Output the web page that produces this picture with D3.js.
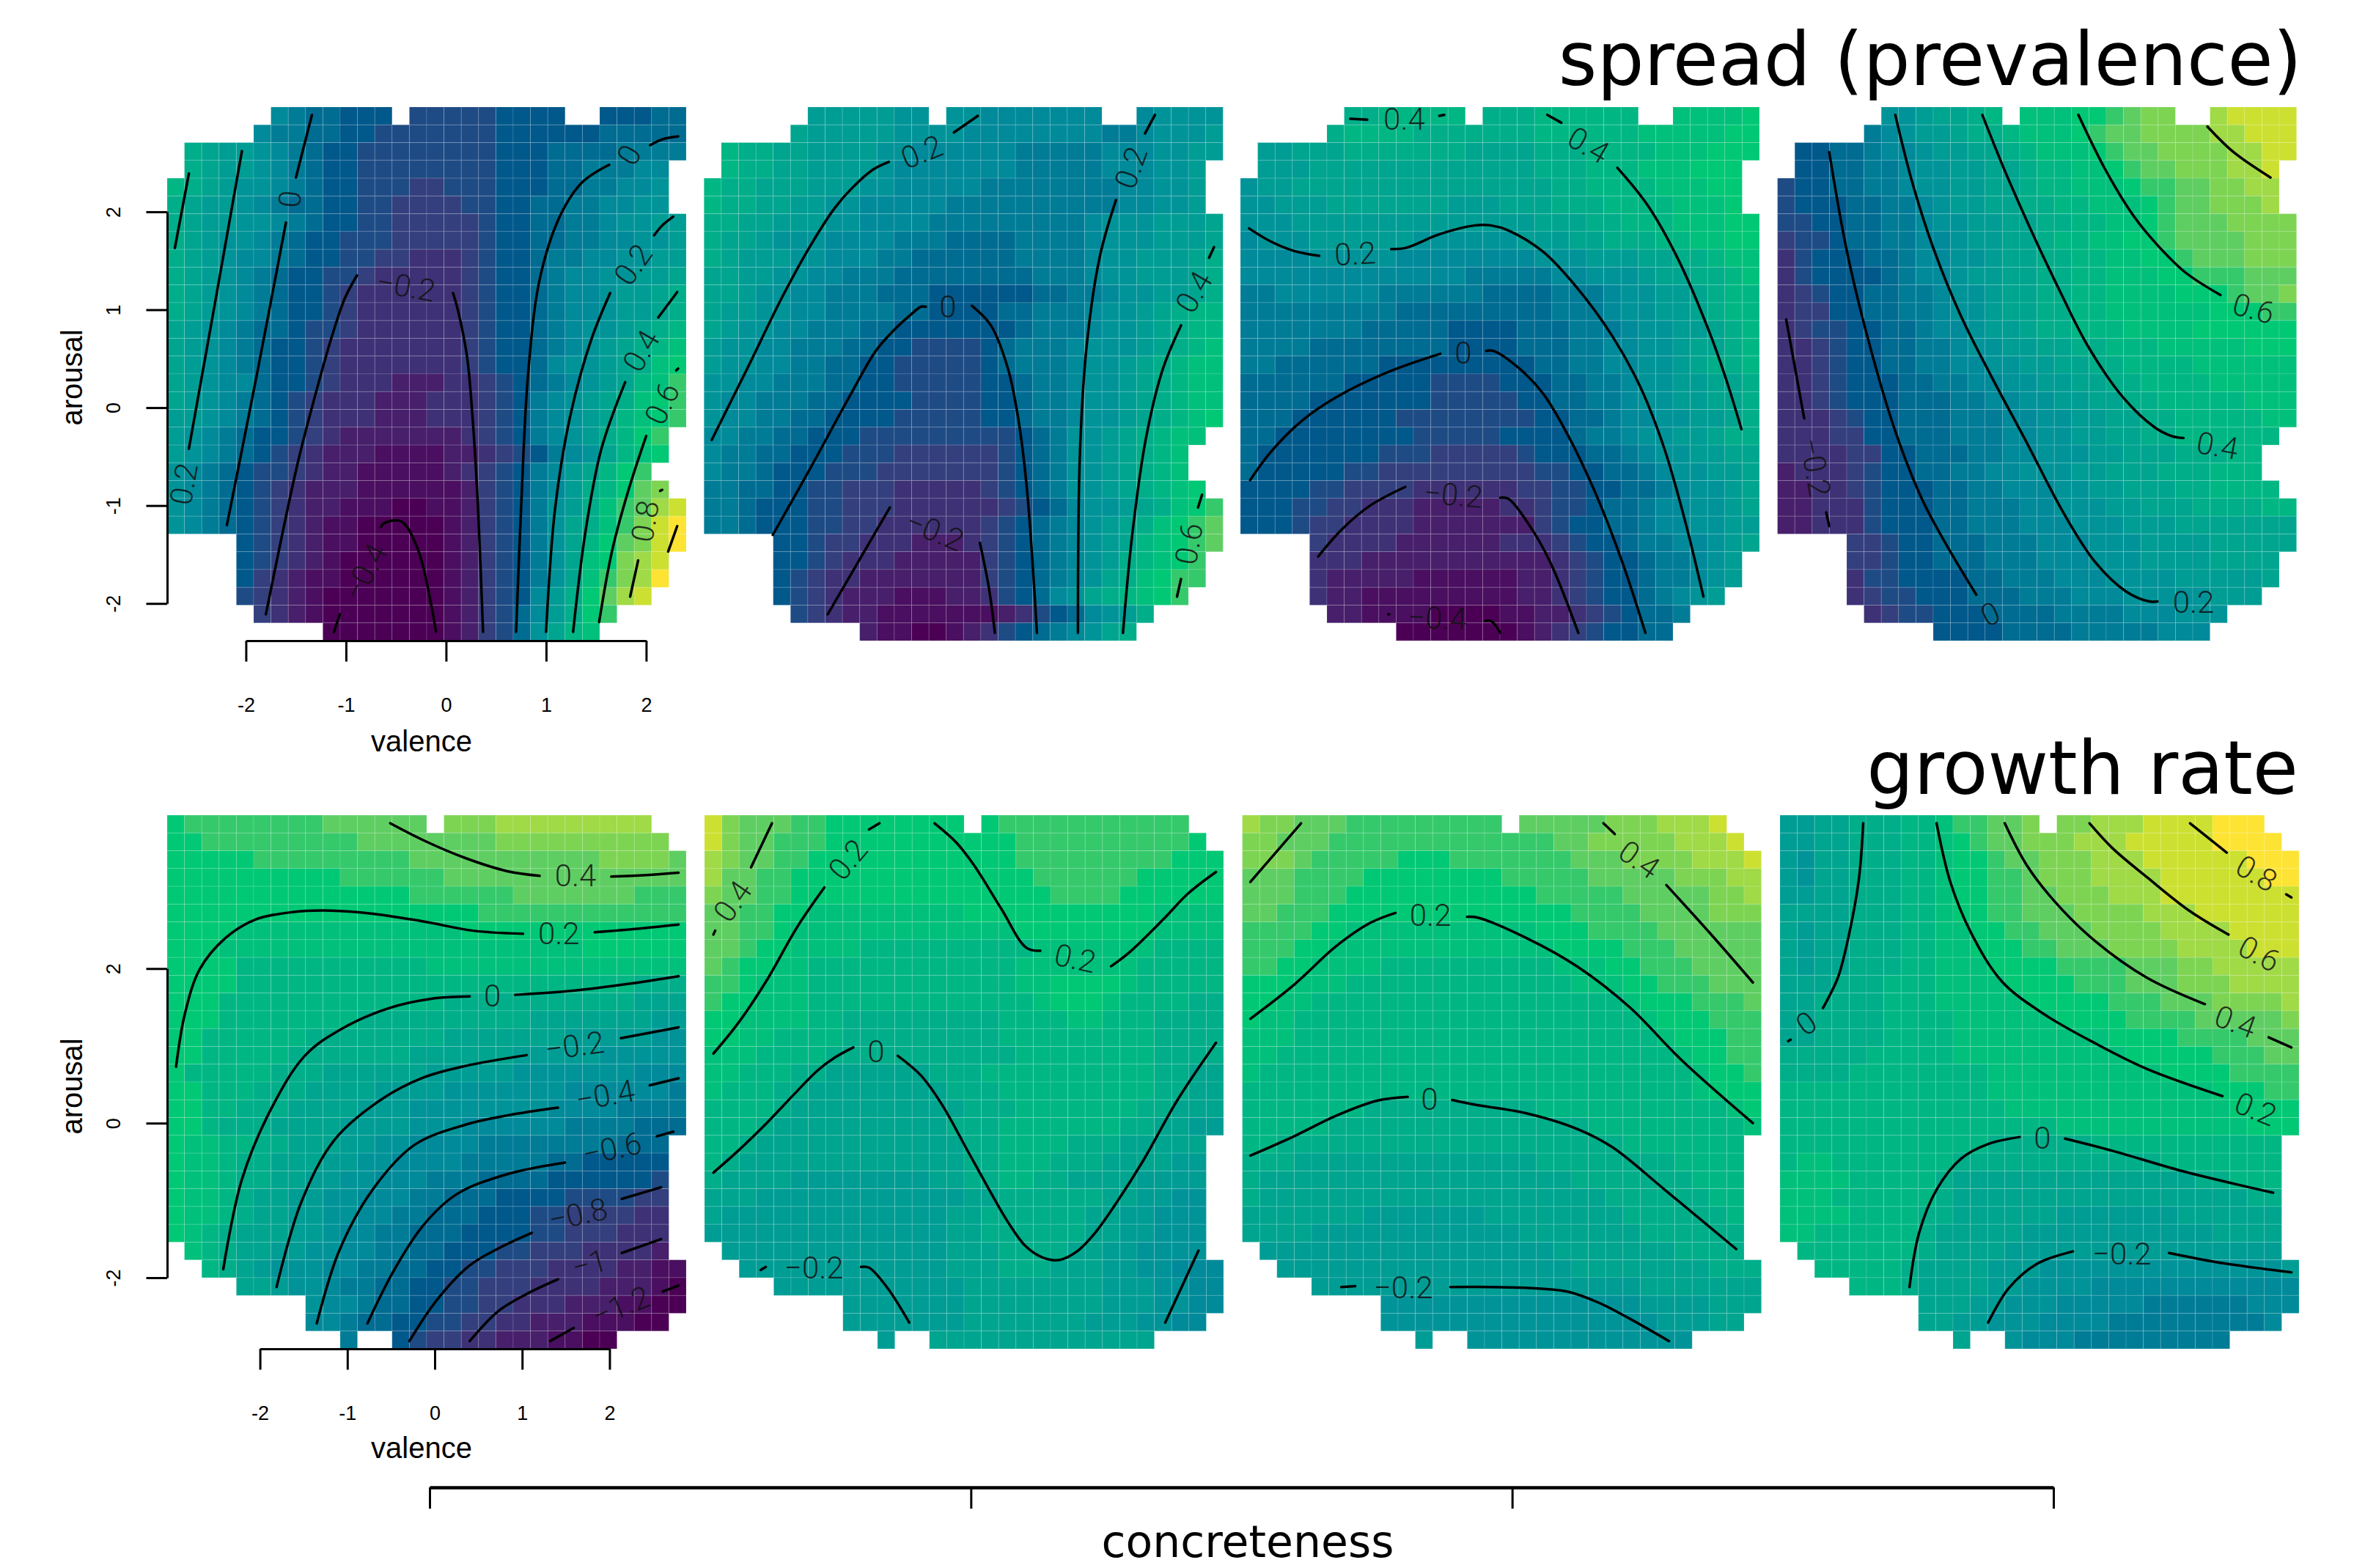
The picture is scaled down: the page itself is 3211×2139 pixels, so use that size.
<!DOCTYPE html>
<html>
<head>
<meta charset="utf-8">
<title>spread and growth rate</title>
<script src="https://cdnjs.cloudflare.com/ajax/libs/d3/7.8.5/d3.min.js"></script>
<style>
  html, body { margin: 0; background: #fff; }
  .tick text { font-family: "Liberation Sans", sans-serif; font-size: 27px; fill: #000; }
  .axis-title { font-family: "Liberation Sans", sans-serif; font-size: 40px; }
  .big-title { font-family: "DejaVu Sans", sans-serif; }
  .contour-label { font-family: Roboto, sans-serif; font-weight: 300; font-size: 42px; fill: #111; fill-opacity: .85; }
</style>
</head>
<body>
<div id="chart"></div>
<script>
// heat values per panel, one string per arousal row, one letter per valence bin ("." = no data)
const spread1 = [
"......jihhggg.fffffgggg..ggghh",
".....jiihhggfffffffgggggghhhhh",
".nmllkjihggffffffffggghhhhiiii",
".nmllkjihggffffffffggghhiiijj.",
"onmlkkjihggfffeefffggghhiijjk.",
"nmllkjihhggffeeeeffgghhiijjkk.",
"nmllkkjihggffeeeeefgghhiijkkll",
"nmlkkjihggfffeeeeefgghhiijjkkl",
"nmlkjjihggffeedddefgghiijjkkll",
"nmlkjihggffedddddefgghijjkkllm",
"nmlkjihggfeddddddefgghijjkllmn",
"nmlkjihggfeddddddefgghijjkllmn",
"mlkjihhgffeddddddefgghijkklmno",
"mlkjihggfedddddddefgghijklmnop",
"mlkjihggfedddddddefgghjkklmnpq",
"mlkjjhggfedddcccddefghijklmopr",
"mlkjihgfedddcccdddefgijklmnpqr",
"llkjihgfedddcccdddefgijklmopqr",
"lkjihggfedcccccccdefgijklnoqr.",
"lkjihgfedcccbbbbccdefgijkmopq..".slice(0, 30),
"kjihgffedccbbbbbcdefgijlmoqr..",
"kjihgfedcccbbbbbbcefgijlnoqst.",
"kjihgfedccbbbaabbcefgiklnprsuv",
"kjihgfedcbbaaaaabcefgikmnprtvw",
"....gfedcbbaaaaabcefgikmoqstvw",
"....gfedcbaaaaaabcefgikmpqtuv.",
"....gedcbbaaaaaabcefgikmprtuw.",
"....fedcbaaaaaaabcefgjlnqsuv..",
".....edcbaaaaaaabcefhjlnqr....",
".........aaaaaaabcefhkmop....."];
const spread2 = [
"......lllllkk.kkjjjjjjj..jkkkk",
".....mlllllkkkkjjjjjjjjiijkkkl",
".onnmmllllkkjjjjjjiiiiijjjkkll",
".onnmmllllkjjjjjjjiiiiijjjkkl.",
"onnmmmlllkkjjjjjiiiiiiiijjkkl.",
"onnmmllkkjjjjjiiiiiiiiiijjkkl.",
"nnmmlllkkjjjjiiiiiiiiijkkklllm",
"nmmlkkkjjjjiiihhhhiiiijkkklllm",
"nmlllkkjjjiihhhhhhiiiijkklllmn",
"mmllkkjjiiihhhhhhhhiiijkklllmn",
"mmlkkjjiiihhhgggggghhiijkkllmn",
"mllkkjjiiiihhgggghhiiijkklmnoo",
"mlkkjjiiihhggggggghiiijkklmnoo",
"lkkjjiiihhggffffghiiijkkklmnop",
"lkkjjiihhggfffffghiiijkklmnopp",
"kkjjiiihhggfffffgghiijkklmnopp",
"kjjiiihhggggffffgghiijkklmnopp",
"kjjiihhggggfffffgghiijkklmnopq",
"jjiihhgggfffffffffghikklmnopp.",
"jiihhgggfffeeeeeefghikklmnop..",
"jiihgggfffeeeeeeefghikklmnop..",
"iihhggffeeedddddefghikklmnopq.",
"iihgggffeeeddddddefghjkklmnpqr",
"iihgggffeeddddddefghijklmnpqrs",
"....ggfeedddcccdefghijklmopqrs",
"....ggfedddcccccefghijklnopqr.",
"....gfeddcccccccefghijkmnpqrr.",
"....gfedcccbbbccdfghjkmnopqr..",
".....fedccbbbbbbbcdfghjkln....",
".........cbbaabcdfghijkmn....."];
const spread3 = [
"......nnooooo.nnnoooooo..ppppq",
".....noooonnnnnnnoooooopppppqq",
".llmmmnnnnnnnmmmmnnnoooopppqqq",
".lllmmmmmmmmmmmmmnnnooopppqqq.",
"kllmmmmmmmmmmmmmmmnnoooopppqq.",
"kklllmmmmmmmlllmmmnnnoooopppq.",
"kkkllllllllllllllmmmnnooopppqq",
"jkkkllllllkkkkkklllmmnnnooppqq",
"jjjjkkkkkjjjjjjjjkkklllmmnnopp",
"jjjjjjjjjjjjjiiiiijjkkklmmnnop",
"iijjjjjjiiiiiihhhhiiijkkllmnoo",
"iiiiiiiiihhhhhhhhhiiijkkllmnoo",
"iiiiiiihhhhhgggghhhiiijkkllmno",
"iiiihhhhhhhhgggghhhiijjkklmmno",
"iihhhhhhggggggggghhiijjkklmnno",
"hhhhhhgggggffffggghhiijkkllmmn",
"hhhhgggggggfffffgghhiijkkllmmn",
"hhhggggggffffffffgghhijjkkllmn",
"hhggggggggfffffgggghiijkkllmnn",
"hgggggggfffeeeeefggghhijkkllmm",
"hgggggffeeeeeeeeeffgghhijkkllm",
"ggggffeeeeddddddeeffgghhijkklm",
"gggffeedddcccccddeffghhijjkklm",
"gggfeeddddcccccccefgghhijjkkll",
"....eddddccccccdddefgghiijjklm",
"....dddcccccccccccdefgghiijkl.",
"....dcccccbbbbbbccdefgghiijkl.",
"....dccbbbbbbbbbccdefgghijkl..",
".....ccbbbbaaaabbccdefghhi....",
".........aaaaaaabcdefgghh....."];
const spread4 = [
"......kklmmno.pppqqrstt..uvvvv",
".....ijkllmnnopppqrssttttuuvvv",
".gghhijjkllmmnopppqrssttttuuvv",
".gghhiijkkllmmnooppqrsstttuuv.",
"fgghhiijkkllmmnoopppqrrssttuu.",
"fggghhiijkllmmnnoopppqrssttt" + "u.",
"ffgghhiijkkllmmnnooppqrsssttt" + "t",
"effghhiijjkllmmnooppqq" + "rsssstt" + "t",
"dfggghhijjkklmmnnooppqq" + "rsssttt",
"dfgggghijjkllmmnnoopppqq" + "rrrsss",
"defgghhiijkklmmnnoopppp" + "qqqrsst",
"deegghhiijkklmmnnooppppppqqqrr",
"deffgghhijjkllmnnoooppppqqqqqq",
"ddefgghhiijkkllmmnnoooppppp" + "qqq",
"ddefgghhiijjkkllmmnnoooopppppp",
"ddefggghhiijjkkllmmnnooooppppp",
"ddefggghhhiijjkkllmmnnoooooppp",
"dddefgghhhiiijjkkllmmnnooooopp",
"dddeegghhhiiijjkkllmmnnoooooo.",
"ddddeegghhhiijjkkkllmmmnnnoo..",
"cdddefgghhiijjkkkllmmmnnnooo..",
"ccddefggghhiijjjkkllmmmnnoooo.",
"ccdddfggghhiiijjkkkllmmmnnnnoo",
"ccdddfggghhiiijjjkkklllmmmmmmm",
"....eefgghhhiiijjjkkkllllmmmmm",
"....eefgghhhiiijjjkkkllllmmmm.",
"....dffgggghhiiijjjkkkklllllm.",
"....deffggghhhiiijjjkkkkklll..",
".....deffggghhhhiiiijjjkkk....",
".........gggghhhhiiiiijjj....."];
const growth1 = [
"qrrrrrrrrssssss.tttuuuuuuuuu..",
"qqrrrrrrrrrsssssssstttttttttt.",
"qqqqqrrrrrrrrrsssssssssss" + "tttts",
"qqqqqqqqqqrrrrrrssssssssssssss",
"qqqqqqqqqqqqqqrrrrrrsssssssrrr",
"qqqqqqqqqqqqqqqqqqrrrrrrrrrrrr",
"qqqqpppppppppppppqqqqqqqqqqqqq",
"qqqppppppppppppppppppppp" + "qqqqqq",
"qqqqoooooooooooppppppppppppppp",
"qqqqooooooooooooooooooooooonnn",
"qqqooooooooooooonnnnnnnnnnnmmm",
"qqqoooooooonnnnnnnnnnmmmmmmmll",
"qqoooooonnnnnnnnmmmmmmmlllllkk",
"qqooooonnnnnnnmmmmmmlllllkkkkk",
"qooooonnnmmmmmmlllllkkkkkkkjjj",
"qqooonnnmmmmllllkkkkkkkjjjjjji",
"qqoonnnmmmmlllkkkkkkkkjjjjiiii",
"qqonnnmmmmllllkkkjjjjjjiiiihhh",
"qppoonnmmmllkkjjjjiiiiiiiihhh.",
"qpponnmmmllkkjjjjiiiiihhggggg.",
"qpponnmmllkkjjjiiihhhhggggggf.",
"qpponmmllkkjjjiihhhggggffffee.",
"qpponmmllkkjjiihhhgggffeeeedd.",
"qponmmmllkjjiihhhggggffeeeddd.",
".ponmmllkkjjiihhgggffeeeddddc.",
"..onmlkkkjjiihhggffeeeddddccbb",
"....mmlkkjiihhggffeeeddddcccba",
"........kjjihhggffeedddcccbbaa",
"........jjihhggffeeddcccbbbaa.",
"..........i..gfeeddcccbbaa...."];
const growth2 = [
"vtsssrrqqqqqqqq.qrrrrrrrrrrr..",
"vtssrrrqqqqqqqqqqqrrrrrrrrrrq.",
"utssrrqqqqqqqqqqqqrrrrrrrrrqqq",
"ussrrqqqqqqqqqqqqqqrrrrrrqqqqq",
"tssrrqqqqqqqqqqqqqqqrrrrqqqqqq",
"ssrrqqpppppppppqqqqqqqqqqqpppp",
"ssrrqpppppppppppppqqqqqqqqpppp",
"ssrqqppppoooooooooopppppppoooo",
"srqqppoooooooooooopppppppooooo",
"rrqpppooooooooooooppqqqqpooooo",
"rqqpppooooooooooooopqqqpoooonn",
"qqppppoonnnnnnnnnooooppooonnnn",
"qqppoooonnnnnnnnnooooooooonnnn",
"pppoooonnnnnnnnnnnoooooooonnnn",
"ppooonnmmmmmmnnnoooooooooonnmm",
"pooonnmmmmmmmmnnnooooooooonnmm",
"oooonmmmmmmmmmmnnnooooooonnmmm",
"ooonmmmmmmmmmmnnnooooooonnmmll",
"oonmmmmmmmmmmmmnnoooonnnmmmmm.",
"onmmmmmmmmmmmmmnnooonnnmmmmll.",
"nmmmmllllllllmmnnoonnmmmmllll.",
"mmmllllllllllllmmnnnnnnmmllkk.",
"mlllllllllllllmmnnnnnnmmllkkk.",
"llllllllllllllmmnnnnnnmmllkkk.",
".lllllllllllllmmmnnnnmmllkkkk.",
"..llllllllllllmmmnnnmmmllkkjjj",
"....lllllllllllmmmmmmmmlllkkjj",
"........lllllllmmmmmmmmlllkkjj",
"........lllllllmmmmmmmlllkkjj.",
"..........l..mmmmmmmmmmmmm...."];
const growth3 = [
"uttsssrrrrrrrrr.ssssstttuuuv..",
"ttsssrrrrrrrrrrrrrsstttttuuuv.",
"tttsrrrrrqqqrrrrrrrsssttttuuuv",
"sssrrrrqqqqqqqqrrrrrssssstttuu",
"sssrrrqqqqqqqqqqqrrrrrsssssttu",
"ssrrrqqqqqqqqqqqqqqrrrrssssttt",
"rrrrqqpppppppppppqqqrrrrssssss",
"rrrqqpppppppppppppqqqqrrrsssss",
"rrqqppppoooooooooopppqqrrrssss",
"qqqpppooooooooooooopppqqrrrsss",
"qqppoooooooooooooooooopqqqrrrs",
"qppoooooooooooooooooooopqqqrrr",
"pppooooooooooooooooooooopqqqrr",
"ppooooooooooooooooooooooopqqrr",
"pooooooooooooooooooooooooopqqr",
"oooooooooooooooooooooooooo" + "pqqq",
"ooooooonnnnnnnnnnooooooooooopq",
"ooooonnnnnnnnnnnnnnnooooooooop",
"oonnnnnnnnnnnnnnnnnnnnooooooo.",
"nnnmmmmmmmmmmmmmmnnnnnnnnoooo.",
"nmmmmmmmmmmmmmmmmmmnnnnnnnooo.",
"nmmmmmmmmmmmmmmmmmmmmnnnnnnoo.",
"mmmmmmmlllllllmmmmmmmmnnnnnno.",
"mmmmllllllllllllmmmmmmmnnnnnn.",
".lllllllllllllllllmmmmmmmnnnn.",
"..lllllllllllllllllmmmmmmmmnnn",
"....lllllllllllllllllllmmmmmmm",
"........kkkkkkkkkkkkkkkllllmmm",
"........kkkkkkkkkkkkkkkklllmm.",
"..........l..kkkkkkkkkkkkk...."];
const growth4 = [
"llmmnnnooprrsst.ttuuuvvvvwww..",
"llmmnnnoopqrsstttuuuvvvvvwwww.",
"lkmmnnnoopqqrsstttuuuvvvvvvwww",
"lkmmnnnoopqqrrstttuuuuvvvvvvww",
"llmmnnnoopqqrrsstttuuuvvvvvvvv",
"mmmmnnnoopqqrrsssttttuuuvvvvvv",
"mlmmnnnooppqqrrsssttttuuuuvvvv",
"mlmmnnnooppqqqrrsssttttuuuuvvv",
"mlmmnnnoopppqqqqrrrrsssttuuuuu",
"mmmnnnoooppppqqqqrrrssstttuuuu",
"mmnnnnooopppppqqqqqrrrsssttttu",
"mmnnnnooooppppppqqqqrrrrssssst",
"mmnnnnoooopppppppppqqqqrrrrsss",
"nnnnnoooooppppppppppqqqqqrrrss",
"nnnnooooooooppppppppppqqqqrrrr",
"oooooooooooopppppppppppppqqqrr",
"oooooooooooooppppppppppppp" + "qqqq",
"oooooooooooooooopppppppppppqqq",
"oooooooooooonnnnnnooooooooooo.",
"oppooooooonnnnnnnnnnnnooooooo.",
"ppppooooonmmmmmmmmmmmmmmnnooo.",
"pppoooooo" + "nmmmmmmmmmmmmmmmmmnn.",
"ppppoooonnmmmmmmlllllllmmmmmm.",
"ppoooooonmmmmmlllllllllllmmmm.",
".ooooooonmmmmllllllllllllllll.",
"..ooooonmmmmlllkkkkkkkkkkkkkkl",
"....ooonmmmmllkkkkjjjjjjjjjjjj",
"........mmmllkkkjjjjjiiiiiijjj",
"........mmllkkkjjjjiiiiiiiiij.",
"..........m..kjjjiiiiiiiii...."];

// contour segments as [valence, arousal] points, broken where the label sits
const spread1Lines = [
  [[-2.57,2.39],[-2.71,1.63]],
  [[-2.04,2.62],[-2.30,1.12],[-2.57,-.42]],
  [[-1.34,2.99],[-1.50,2.35]],
  [[-1.60,1.89],[-1.89,.34],[-2.19,-1.20]],
  [[-.89,1.35],[-1.01,1.12],[-1.14,.73],[-1.33,.04],[-1.49,-.60],[-1.80,-2.11]],
  [[.07,1.17],[.12,.99],[.21,.52],[.27,-.17],[.32,-1.03],[.37,-2.29]],
  [[-.65,-1.22],[-.62,-1.18],[-.45,-1.16],[-.28,-1.45],[-.10,-2.29]],
  [[-1.06,-2.11],[-1.12,-2.29]],
  [[.70,-2.29],[.75,-1.03],[.82,.34],[.94,1.33],[1.15,1.98],[1.36,2.30],[1.63,2.48]],
  [[2.04,2.68],[2.16,2.74],[2.32,2.77]],
  [[1.00,-2.29],[1.09,-1.03],[1.24,-.09],[1.45,.69],[1.64,1.17]],
  [[2.08,1.76],[2.16,1.86],[2.27,1.95]],
  [[1.27,-2.29],[1.39,-1.29],[1.55,-.43],[1.79,.26]],
  [[2.12,.92],[2.31,1.18]],
  [[1.53,-2.19],[1.66,-1.46],[1.83,-.82],[2.00,-.29]],
  [[2.30,.38],[2.32,.40]],
  [[1.84,-1.93],[1.92,-1.56]],
  [[2.14,-.85],[2.16,-.84]],
  [[2.22,-1.47],[2.31,-1.21]]
];
const spread1Labels = [
  ["0.2",-2.62,-.78,-80],["0",-1.56,2.13,-85],["−0.2",-.40,1.24,10],["−0.4",-.81,-1.68,-62],
  ["0",1.83,2.58,-60],["0.2",1.87,1.46,-55],["0.4",1.95,.58,-60],["0.6",2.16,.04,-65],["0.8",1.99,-1.16,-80]
];
const spread2Lines = [
  [[-2.71,-.33],[-2.34,.43],[-2.00,1.14],[-1.72,1.66],[-1.48,2.04],[-1.31,2.24],[-1.10,2.43],[-.94,2.51]],
  [[-.29,2.81],[-.05,2.98]],
  [[-2.10,-1.30],[-1.72,-.61],[-1.34,.10],[-1.07,.58],[-.89,.79],[-.72,.95],[-.62,1.03],[-.57,1.03]],
  [[-.11,1.04],[.08,.84],[.25,.40],[.35,-.09],[.44,-.83],[.54,-2.30]],
  [[.95,-2.30],[.97,-.46],[1.04,.66],[1.17,1.55],[1.33,2.12]],
  [[1.62,2.80],[1.72,2.99]],
  [[1.40,-2.30],[1.49,-1.32],[1.63,-.31],[1.80,.40],[1.98,.84]],
  [[2.26,1.53],[2.31,1.64]],
  [[-1.55,-2.11],[-.93,-1.02]],
  [[-.03,-1.38],[.06,-1.84],[.12,-2.30]],
  [[1.94,-1.93],[1.98,-1.75]],
  [[2.15,-1.02],[2.19,-.89]]
];
const spread2Labels = [
  ["0.2",-.61,2.61,-22],["0.2",1.48,2.45,-70],["0",-.35,1.03,0],["0.4",2.11,1.18,-60],["−0.2",-.48,-1.26,22],["0.6",2.06,-1.39,-80]
];
const spread3Lines = [
  [[-1.69,2.95],[-1.52,2.94]],
  [[-.80,2.98],[-.75,2.99]],
  [[.28,2.99],[.42,2.91]],
  [[.98,2.45],[1.28,2.07],[1.59,1.51],[1.90,.77],[2.07,.28],[2.22,-.22]],
  [[-2.70,1.83],[-2.49,1.70],[-2.25,1.60],[-2.00,1.55]],
  [[-1.28,1.62],[-1.14,1.63],[-.80,1.77],[-.45,1.86],[-.28,1.86],[-.11,1.81],[.24,1.59],[.58,1.22],[.93,.73],[1.21,.21],[1.45,-.42],[1.66,-1.17],[1.84,-1.93]],
  [[-2.69,-.74],[-2.49,-.46],[-2.18,-.14],[-1.84,.10],[-1.32,.36],[-.79,.55]],
  [[-.33,.58],[-.26,.58],[0,.40],[.24,.14],[.48,-.27],[.76,-.87],[1.03,-1.58],[1.26,-2.30]],
  [[-2.01,-1.52],[-1.77,-1.24],[-1.49,-1.00],[-1.14,-.81]],
  [[-.19,-.92],[-.11,-.93],[.10,-1.20],[.31,-1.58],[.59,-2.30]],
  [[-1.31,-2.11],[-1.30,-2.11]],
  [[-.34,-2.18],[-.28,-2.18],[-.19,-2.30]]
];
const spread3Labels = [
  ["0.4",-1.15,2.95,0],["0.4",.69,2.68,30],["0.2",-1.64,1.57,-3],["0",-.56,.56,0],["−0.2",-.66,-.89,5],["−0.4",-.82,-2.15,2]
];
const spread4Lines = [
  [[-2.70,.90],[-2.52,-.11]],
  [[-2.30,-1.07],[-2.27,-1.21]],
  [[-2.27,2.61],[-2.10,1.63],[-1.89,.73],[-1.61,-.24],[-1.34,-.94],[-1.06,-1.47],[-.80,-1.91]],
  [[-1.61,2.99],[-1.44,2.30],[-1.23,1.63],[-.96,.95],[-.65,.32],[-.30,-.35],[.08,-1.09],[.39,-1.58],[.70,-1.88],[.93,-1.98],[1.01,-1.98]],
  [[-.74,2.99],[-.54,2.48],[-.27,1.85],[.04,1.18],[.32,.62],[.67,.10],[.98,-.20],[1.15,-.29],[1.27,-.31]],
  [[.22,2.99],[.49,2.43],[.77,1.96],[1.01,1.66],[1.29,1.38],[1.64,1.15]],
  [[1.51,2.87],[1.77,2.61],[2.14,2.35]]
];
const spread4Labels = [
  ["−0.2",-2.41,-.61,80],["0",-.66,-2.11,-25],["0.2",1.37,-1.99,0],["0.4",1.61,-.39,10],["0.6",1.97,1.01,15]
];
const growth1Lines = [
  [[-.51,3.88],[-.13,3.66],[.35,3.43],[.83,3.26],[1.20,3.20]],
  [[2.02,3.19],[2.42,3.21],[2.79,3.24]],
  [[-2.96,.73],[-2.86,1.41],[-2.69,1.99],[-2.40,2.39],[-2.06,2.63],[-1.63,2.73],[-1.19,2.75],[-.71,2.71],[-.13,2.61],[.44,2.49],[1.01,2.45]],
  [[1.83,2.47],[2.27,2.51],[2.79,2.57]],
  [[-2.42,-1.89],[-2.21,-.74],[-1.87,.19],[-1.48,.88],[-1.05,1.23],[-.52,1.49],[-.04,1.61],[.40,1.64]],
  [[.92,1.66],[1.55,1.71],[2.27,1.81],[2.79,1.90]],
  [[-1.81,-2.12],[-1.53,-1.03],[-1.15,-.22],[-.62,.30],[-.13,.59],[.35,.74],[1.05,.88]],
  [[2.13,1.10],[2.79,1.24]],
  [[-1.35,-2.59],[-1.10,-1.67],[-.71,-.86],[-.23,-.28],[.35,-.02],[.83,.10],[1.41,.20]],
  [[2.46,.49],[2.79,.58]],
  [[-.77,-2.59],[-.47,-1.91],[-.13,-1.32],[.25,-.92],[.83,-.66],[1.49,-.51]],
  [[2.54,-.17],[2.73,-.11]],
  [[-.29,-2.82],[.01,-2.31],[.39,-1.85],[.73,-1.62],[1.11,-1.42]],
  [[2.14,-.98],[2.59,-.83]],
  [[.40,-2.82],[.73,-2.43],[1.07,-2.20],[1.41,-2.02]],
  [[2.14,-1.68],[2.59,-1.50]],
  [[1.32,-2.82],[1.59,-2.65]],
  [[2.61,-2.18],[2.79,-2.10]]
];
const growth1Labels = [
  ["0.4",1.61,3.20,0],["0.2",1.42,2.45,0],["0",.66,1.65,0],["−0.2",1.60,1.00,-8],["−0.4",1.95,.36,-10],
  ["−0.6",2.03,-.33,-12],["−0.8",1.64,-1.18,-12],["−1",1.77,-1.82,-15],["−1.2",2.13,-2.37,-22]
];
const growth2Lines = [
  [[-2.96,2.44],[-2.94,2.49]],
  [[-2.53,3.31],[-2.29,3.88]],
  [[-2.96,.90],[-2.68,1.29],[-2.36,1.83],[-2.00,2.54],[-1.69,3.05]],
  [[-1.18,3.80],[-1.06,3.88]],
  [[-.43,3.88],[-.18,3.63],[.02,3.34],[.33,2.78],[.62,2.27],[.78,2.23]],
  [[1.59,2.03],[1.80,2.21],[2.19,2.64],[2.47,2.97],[2.79,3.25]],
  [[-2.96,-.64],[-2.68,-.36],[-2.36,-.01],[-2.04,.37],[-1.77,.68],[-1.57,.85],[-1.36,.98]],
  [[-.85,.87],[-.58,.61],[-.34,.23],[-.06,-.34],[.17,-.81],[.41,-1.28],[.61,-1.59],[.81,-1.74],[1.00,-1.77],[1.20,-1.66],[1.40,-1.43],[1.64,-1.05],[1.96,-.48],[2.35,.30],[2.79,1.04]],
  [[-2.42,-1.90],[-2.36,-1.86]],
  [[-1.27,-1.86],[-1.18,-1.87],[-.97,-2.13],[-.72,-2.58]],
  [[2.21,-2.58],[2.59,-1.65]]
];
const growth2Labels = [
  ["0.4",-2.74,2.87,-55],["0.2",-1.42,3.41,-50],["0.2",1.18,2.13,12],["0",-1.10,.93,0],["−0.2",-1.81,-1.87,0]
];
const growth3Lines = [
  [[-2.97,3.12],[-2.39,3.88]],
  [[1.07,3.88],[1.20,3.74]],
  [[1.79,3.08],[2.28,2.47],[2.78,1.82]],
  [[-2.97,1.35],[-2.47,1.79],[-2.00,2.28],[-1.60,2.59],[-1.31,2.72]],
  [[-.49,2.67],[-.37,2.66],[.18,2.40],[.78,2.02],[1.37,1.50],[1.96,.82],[2.78,0]],
  [[-2.97,-.42],[-2.47,-.17],[-2.00,.09],[-1.52,.29],[-1.17,.34]],
  [[-.66,.30],[-.41,.24],[.18,.13],[.78,-.08],[1.17,-.31],[1.77,-.86],[2.59,-1.63]],
  [[-1.93,-2.12],[-1.77,-2.11]],
  [[-.68,-2.12],[.18,-2.13],[.66,-2.18],[1.01,-2.32],[1.37,-2.53],[1.82,-2.82]]
];
const growth3Labels = [
  ["0.4",1.48,3.41,35],["0.2",-.91,2.69,0],["0",-.92,.31,0],["−0.2",-1.22,-2.13,0]
];
const growth4Lines = [
  [[-2.11,3.88],[-2.16,3.15],[-2.28,2.40],[-2.40,1.88],[-2.57,1.49]],
  [[-2.97,1.06],[-2.94,1.08]],
  [[-1.27,3.88],[-1.11,3.11],[-.87,2.45],[-.52,1.83],[-.04,1.41],[.55,1.03],[1.14,.70],[2.00,.35]],
  [[-.49,3.88],[-.24,3.34],[.08,2.87],[.55,2.35],[1.14,1.88],[1.80,1.54]],
  [[2.53,1.11],[2.79,.98]],
  [[.48,3.88],[.75,3.55],[1.14,3.18],[1.62,2.75],[2.07,2.44]],
  [[1.63,3.88],[2.05,3.50]],
  [[2.73,2.96],[2.79,2.92]],
  [[-1.58,-2.12],[-1.47,-1.42],[-1.27,-.86],[-.99,-.46],[-.68,-.27],[-.32,-.18]],
  [[.20,-.20],[.75,-.36],[1.54,-.62],[2.58,-.90]],
  [[-.68,-2.58],[-.44,-2.13],[-.12,-1.82],[.29,-1.66]],
  [[1.39,-1.68],[1.94,-1.80],[2.79,-1.93]]
];
const growth4Labels = [
  ["0",-2.76,1.29,-35],["0.8",2.39,3.23,30],["0.6",2.42,2.19,28],["0.4",2.15,1.31,20],["0.2",2.38,.18,22],["0",-.06,-.19,0],["−0.2",.85,-1.69,0]
];

const valenceTicks = [-2, -1, 0, 1, 2];
const arousalTicksTop = [-2, -1, 0, 1, 2];
const arousalTicksBottom = [-2, 0, 2];
const concretenessTicks = [1, 2, 3, 4];
const titles = ["spread (prevalence)", "growth rate"];

// palette of the heat levels, dark to light
const levelCodes = "abcdefghijklmnopqrstuvw".split("");
const levelColors = ["#4B0055","#4A0F60","#471F6B","#3F3176","#343F7E","#1F4B85","#00588B","#006C92","#007C97","#008A9A",
  "#009499","#009D95","#00A58F","#00AE8A","#00B784","#00C07B","#00C874","#35C96C","#5FCE62","#7DD453","#A0DA47","#CCE031","#FDE333"];
const color = d3.scaleOrdinal(levelCodes, levelColors);

const WIDTH = 3211, HEIGHT = 2139;
const PANEL_W = 708, PANEL_H = 728;

const rowsConfig = [
  {
    top: 146, lefts: [228, 960.3, 1692, 2424.6],
    valence: [-2.787, 2.40], arousal: [3.07, -2.38], arousalTicks: arousalTicksTop,
    grids: [spread1, spread2, spread3, spread4],
    lines: [spread1Lines, spread2Lines, spread3Lines, spread4Lines],
    labels: [spread1Labels, spread2Labels, spread3Labels, spread4Labels],
    xTickY: 962, xTitleY: 1025, yTitleCenter: 515,
    title: titles[0], titleX: 3140, titleY: 116
  },
  {
    top: 1112, lefts: [228, 961, 1694.6, 2428],
    valence: [-3.062, 2.877], arousal: [3.985, -2.92], arousalTicks: arousalTicksBottom,
    grids: [growth1, growth2, growth3, growth4],
    lines: [growth1Lines, growth2Lines, growth3Lines, growth4Lines],
    labels: [growth1Labels, growth2Labels, growth3Labels, growth4Labels],
    xTickY: 1928, xTitleY: 1989, yTitleCenter: 1482,
    title: titles[1], titleX: 3135, titleY: 1083
  }
];

const svg = d3.select("#chart").append("svg").attr("width", WIDTH).attr("height", HEIGHT);

const colScale = d3.scaleBand().domain(d3.range(30)).range([0, PANEL_W]);
const rowScale = d3.scaleBand().domain(d3.range(30)).range([0, PANEL_H]);

function drawPanel(row, i) {
  const x = d3.scaleLinear().domain(row.valence).range([0, PANEL_W]);
  const y = d3.scaleLinear().domain(row.arousal).range([0, PANEL_H]);
  const g = svg.append("g").attr("transform", `translate(${row.lefts[i]},${row.top})`);

  const cells = [];
  row.grids[i].forEach((s, r) => s.split("").forEach((code, c) => {
    if (code !== "." && c < 30) cells.push({ r, c, code });
  }));
  g.selectAll("rect.cell").data(cells).join("rect")
    .attr("class", "cell")
    .attr("x", d => colScale(d.c))
    .attr("y", d => rowScale(d.r))
    .attr("width", colScale.bandwidth())
    .attr("height", rowScale.bandwidth())
    .attr("fill", d => color(d.code))
    .attr("stroke", "#fff")
    .attr("stroke-opacity", .14)
    .attr("stroke-width", 1);

  const line = d3.line().x(d => x(d[0])).y(d => y(d[1])).curve(d3.curveCatmullRom.alpha(.5));
  g.selectAll("path.contour").data(row.lines[i]).join("path")
    .attr("class", "contour")
    .attr("d", line)
    .attr("fill", "none")
    .attr("stroke", "#000")
    .attr("stroke-width", 3.5)
    .attr("stroke-linecap", "round");

  g.selectAll("text.contour-label").data(row.labels[i]).join("text")
    .attr("class", "contour-label")
    .attr("text-anchor", "middle")
    .attr("dominant-baseline", "central")
    .attr("transform", d => `translate(${x(d[1])},${y(d[2])}) rotate(${d[3]})`)
    .text(d => d[0]);
}

function drawAxes(row) {
  const x = d3.scaleLinear().domain(row.valence).range([row.lefts[0], row.lefts[0] + PANEL_W]);
  const y = d3.scaleLinear().domain(row.arousal).range([row.top, row.top + PANEL_H]);
  const xShort = d3.scaleLinear().domain([-2, 2]).range([x(-2), x(2)]);
  const yShort = d3.scaleLinear().domain([-2, 2]).range([y(-2), y(2)]);

  const xAxis = d3.axisBottom(xShort).tickValues(valenceTicks).tickSize(28.5).tickSizeOuter(0).tickFormat(d => String(d));
  const xg = svg.append("g").attr("transform", `translate(0,${row.top + PANEL_H})`).call(xAxis);
  xg.selectAll("line").attr("stroke", "#000").attr("stroke-width", 3);
  xg.select(".domain").attr("stroke", "#000").attr("stroke-width", 3);
  xg.selectAll("text").attr("y", row.xTickY - row.top - PANEL_H).attr("dy", ".35em");

  const yAxis = d3.axisLeft(yShort).tickValues(row.arousalTicks).tickSize(28.5).tickSizeOuter(0).tickFormat(d => String(d));
  const yg = svg.append("g").attr("transform", `translate(${row.lefts[0]},0)`).call(yAxis);
  yg.selectAll("line").attr("stroke", "#000").attr("stroke-width", 3);
  yg.select(".domain").attr("stroke", "#000").attr("stroke-width", 3);
  yg.selectAll("text")
    .attr("x", null).attr("dy", null)
    .attr("text-anchor", "middle")
    .attr("transform", `translate(${155 - row.lefts[0]},0) rotate(-90)`)
    .attr("dominant-baseline", "central");

  svg.append("text").attr("class", "axis-title")
    .attr("x", 575).attr("y", row.xTitleY).attr("text-anchor", "middle").text("valence");
  svg.append("text").attr("class", "axis-title")
    .attr("transform", `translate(112,${row.yTitleCenter}) rotate(-90)`)
    .attr("text-anchor", "middle").text("arousal");

  svg.append("text").attr("class", "big-title")
    .attr("x", row.titleX).attr("y", row.titleY)
    .attr("text-anchor", "end").attr("font-size", 101).text(row.title);
}

rowsConfig.forEach(row => {
  row.grids.forEach((_, i) => drawPanel(row, i));
  drawAxes(row);
});

// concreteness bracket under both rows
const concreteness = d3.scaleLinear().domain([1, 4]).range([586, 2801]);
const bracket = svg.append("g").attr("transform", "translate(0,2029)")
  .call(d3.axisBottom(concreteness).tickValues(concretenessTicks).tickSize(29).tickSizeOuter(0).tickFormat(""));
bracket.selectAll("line").attr("stroke", "#000").attr("stroke-width", 3);
bracket.select(".domain").attr("stroke", "#000").attr("stroke-width", 4.5);
svg.append("text").attr("class", "big-title")
  .attr("x", 1702).attr("y", 2124).attr("text-anchor", "middle").attr("font-size", 60).text("concreteness");
</script>
</body>
</html>
